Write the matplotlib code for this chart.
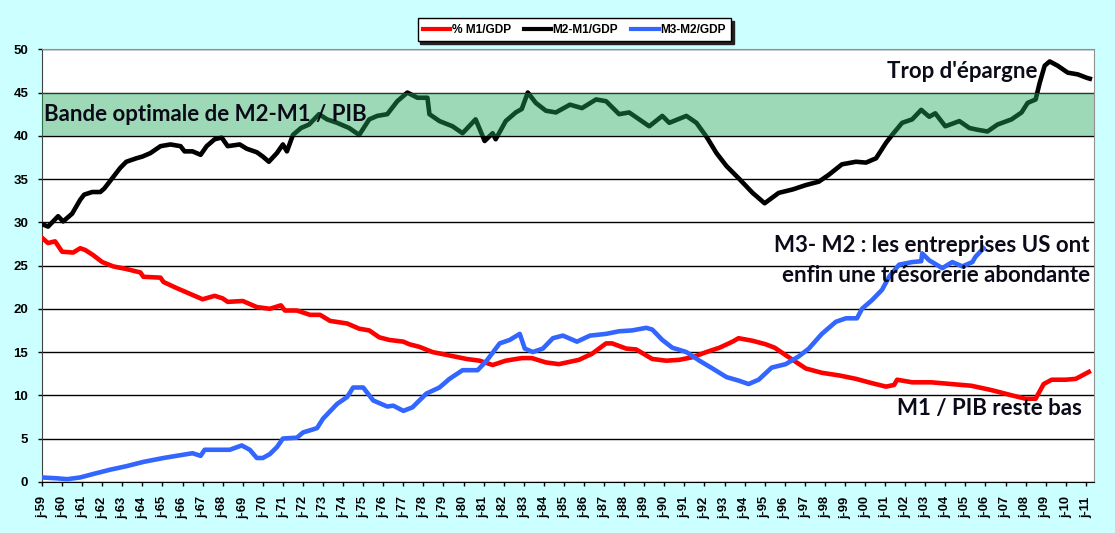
import numpy as np
import matplotlib
matplotlib.use("Agg")
import matplotlib.pyplot as plt
from matplotlib.lines import Line2D

# % M1 / GDP (year fraction -> value)
m1_x = [1959.0, 1959.3, 1959.65, 1960.0, 1960.55, 1960.9, 1961.15, 1961.55, 1962.0, 1962.55,
        1963.2, 1963.9, 1964.05, 1964.9, 1965.05, 1965.7, 1966.5, 1967.0, 1967.6, 1968.0,
        1968.25, 1969.0, 1969.7, 1970.35, 1970.9, 1971.1, 1971.7, 1972.35, 1972.85, 1973.35,
        1974.2, 1974.8, 1975.3, 1975.8, 1976.3, 1977.0, 1977.3, 1977.8, 1978.45, 1979.3,
        1980.15, 1980.8, 1981.45, 1982.1, 1982.9, 1983.4, 1984.1, 1984.75, 1985.75, 1986.4,
        1987.1, 1987.4, 1988.1, 1988.6, 1989.4, 1990.1, 1990.75, 1991.4, 1992.1, 1992.75,
        1993.4, 1993.7, 1994.4, 1995.05, 1995.5, 1996.2, 1997.05, 1997.85, 1998.7, 1999.55,
        2000.35, 2001.05, 2001.45, 2001.6, 2002.35, 2003.3, 2004.3, 2005.3, 2006.3, 2007.3,
        2008.0, 2008.5, 2008.9, 2009.3, 2010.0, 2010.5, 2011.15]
m1_y = [28.2, 27.6, 27.8, 26.6, 26.5, 27.0, 26.8, 26.2, 25.4, 24.9,
        24.6, 24.2, 23.7, 23.6, 23.1, 22.4, 21.6, 21.1, 21.5, 21.2,
        20.8, 20.9, 20.2, 20.0, 20.4, 19.8, 19.8, 19.3, 19.3, 18.6,
        18.3, 17.7, 17.5, 16.7, 16.4, 16.2, 15.9, 15.6, 15.0, 14.6,
        14.2, 14.0, 13.5, 14.0, 14.3, 14.3, 13.8, 13.6, 14.1, 14.8,
        16.0, 16.0, 15.4, 15.3, 14.2, 14.0, 14.1, 14.4, 15.0, 15.5,
        16.2, 16.6, 16.3, 15.9, 15.5, 14.4, 13.1, 12.6, 12.3, 11.9,
        11.4, 11.0, 11.2, 11.8, 11.5, 11.5, 11.3, 11.1, 10.6, 10.0,
        9.6, 9.6, 11.3, 11.8, 11.8, 11.9, 12.7]

# M2-M1 / GDP
m2m1_x = [1959.0, 1959.3, 1959.8, 1960.05, 1960.5, 1960.9, 1961.1, 1961.5, 1961.9, 1962.1,
          1962.5, 1962.9, 1963.2, 1963.7, 1964.0, 1964.4, 1964.9, 1965.4, 1965.9, 1966.1,
          1966.5, 1966.9, 1967.2, 1967.6, 1967.95, 1968.25, 1968.85, 1969.2, 1969.7, 1970.0,
          1970.3, 1970.7, 1971.0, 1971.2, 1971.5, 1971.9, 1972.3, 1972.8, 1973.2, 1973.7,
          1974.3, 1974.8, 1975.3, 1975.7, 1976.2, 1976.7, 1977.2, 1977.7, 1978.2, 1978.3,
          1978.8, 1979.45, 1979.95, 1980.6, 1980.8, 1981.05, 1981.45, 1981.6, 1982.1, 1982.6,
          1982.9, 1983.2, 1983.6, 1984.1, 1984.6, 1985.3, 1985.9, 1986.6, 1987.1, 1987.75,
          1988.25, 1988.75, 1989.25, 1989.9, 1990.25, 1991.1, 1991.6, 1992.1, 1992.6, 1993.1,
          1993.7, 1994.4, 1995.0, 1995.7, 1996.4, 1997.05, 1997.7, 1998.2, 1998.85, 1999.55,
          2000.05, 2000.55, 2001.05, 2001.35, 2001.85, 2002.35, 2002.8, 2003.2, 2003.5, 2004.0,
          2004.7, 2005.2, 2005.6, 2006.1, 2006.6, 2007.3, 2007.8, 2008.1, 2008.5, 2008.7,
          2008.95, 2009.2, 2009.6, 2010.1, 2010.6, 2011.05, 2011.2]
m2m1_y = [29.8, 29.5, 30.7, 30.1, 31.0, 32.6, 33.2, 33.5, 33.5, 33.9,
          35.1, 36.3, 37.0, 37.4, 37.6, 38.0, 38.8, 39.0, 38.8, 38.2,
          38.2, 37.8, 38.8, 39.6, 39.8, 38.8, 39.0, 38.5, 38.1, 37.6,
          37.0, 38.0, 39.0, 38.2, 40.1, 40.9, 41.3, 42.5, 41.9, 41.5,
          40.9, 40.1, 41.9, 42.3, 42.5, 44.0, 45.0, 44.4, 44.4, 42.5,
          41.7, 41.1, 40.3, 41.9, 40.8, 39.4, 40.3, 39.6, 41.7, 42.7,
          43.1, 45.0, 43.8, 42.9, 42.7, 43.6, 43.2, 44.2, 44.0, 42.5,
          42.7, 41.9, 41.1, 42.3, 41.5, 42.3, 41.5, 39.9, 38.0, 36.5,
          35.1, 33.4, 32.2, 33.4, 33.8, 34.3, 34.7, 35.5, 36.7, 37.0,
          36.9, 37.4, 39.2, 40.1, 41.5, 41.9, 43.0, 42.2, 42.6, 41.1,
          41.7, 40.9, 40.7, 40.5, 41.3, 41.9, 42.7, 43.8, 44.2, 46.1,
          48.1, 48.6, 48.1, 47.3, 47.1, 46.7, 46.6]

# M3-M2 / GDP (series stops in 2006)
m3m2_x = [1959.0, 1959.75, 1960.25, 1960.9, 1961.55, 1962.4, 1963.2, 1964.05, 1965.05, 1965.7,
          1966.5, 1966.9, 1967.1, 1968.35, 1968.95, 1969.35, 1969.7, 1970.0, 1970.35, 1970.7,
          1971.0, 1971.7, 1972.0, 1972.7, 1973.0, 1973.7, 1974.2, 1974.5, 1975.0, 1975.5,
          1976.2, 1976.5, 1977.0, 1977.45, 1978.15, 1978.8, 1979.3, 1979.95, 1980.7, 1981.15,
          1981.8, 1982.3, 1982.8, 1983.05, 1983.45, 1983.95, 1984.45, 1984.95, 1985.65, 1986.3,
          1987.1, 1987.75, 1988.4, 1989.1, 1989.4, 1989.9, 1990.4, 1991.1, 1991.75, 1992.4,
          1993.1, 1993.7, 1994.2, 1994.7, 1995.35, 1996.05, 1996.7, 1997.2, 1997.85, 1998.55,
          1999.05, 1999.6, 1999.85, 2000.35, 2000.85, 2001.2, 2001.7, 2002.35, 2002.8, 2002.85,
          2003.2, 2003.85, 2004.35, 2004.85, 2005.35, 2005.5, 2005.9]
m3m2_y = [0.5, 0.4, 0.3, 0.5, 0.9, 1.4, 1.8, 2.3, 2.75, 3.0,
          3.3, 3.0, 3.7, 3.7, 4.2, 3.7, 2.75, 2.75, 3.2, 4.0,
          5.0, 5.1, 5.7, 6.2, 7.3, 9.0, 9.8, 10.9, 10.9, 9.4,
          8.7, 8.8, 8.2, 8.6, 10.2, 10.9, 11.9, 12.9, 12.9, 14.0,
          16.0, 16.4, 17.1, 15.4, 15.0, 15.4, 16.6, 16.9, 16.2, 16.9,
          17.1, 17.4, 17.5, 17.8, 17.6, 16.4, 15.5, 15.0, 14.0, 13.1,
          12.1, 11.7, 11.3, 11.8, 13.2, 13.6, 14.5, 15.4, 17.1, 18.5,
          18.9, 18.9, 20.0, 21.0, 22.2, 23.7, 25.1, 25.4, 25.5, 26.4,
          25.6, 24.7, 25.4, 24.9, 25.4, 26.0, 27.0]

years = np.arange(1959, 2012)
year_labels = ["j-%02d" % (y % 100) for y in years]

fig = plt.figure(figsize=(11.15, 5.33), dpi=100, facecolor="#ccffff")
ax = fig.add_axes([0.0377, 0.0961, 0.9435, 0.8114])
ax.set_facecolor("white")

ax.plot(m1_x, m1_y, color="#ff0000", lw=3.3, zorder=3, solid_joinstyle="round")
ax.plot(m2m1_x, m2m1_y, color="black", lw=3.3, zorder=3, solid_joinstyle="round")
ax.plot(m3m2_x, m3m2_y, color="#3366ff", lw=3.3, zorder=3, solid_joinstyle="round")

# optimal band, drawn over the black line
ax.axhspan(40, 45, color="#22aa5b", alpha=0.44, lw=0, zorder=4)

ax.set_xlim(1959.0, 2011.41)
ax.set_ylim(0, 50)
ax.set_yticks(np.arange(0, 51, 5))
ax.set_xticks(years)
ax.set_xticklabels(year_labels, rotation=90, fontsize=9.3, fontweight="bold",
                   family="Liberation Sans")
for lab in ax.get_yticklabels():
    lab.set_fontsize(9.5)
    lab.set_fontweight("bold")
    lab.set_family("Liberation Sans")
ax.tick_params(axis="both", direction="out", length=3, width=1, color="black")
ax.tick_params(axis="y", pad=7)
ax.tick_params(axis="x", pad=7.5)

ax.grid(axis="y", color="black", lw=1)
ax.set_axisbelow(True)
ax.spines["left"].set_color("#404040")
ax.spines["bottom"].set_color("black")
ax.spines["top"].set_color("#909090")
ax.spines["right"].set_color("#909090")

txt = dict(color="#0a0a18", fontsize=16, fontweight="bold", family="Lato", zorder=6)
ax.text(1959.1, 42.5, "Bande optimale de M2-M1 / PIB", ha="left", va="center", **txt)
ax.text(2008.6, 47.4, "Trop d'épargne", ha="right", va="center", **txt)
ax.text(2011.2, 27.3, "M3- M2 : les entreprises US ont", ha="right", va="center", **txt)
ax.text(2011.2, 23.9, "enfin une trésorerie abondante", ha="right", va="center", **txt)
ax.text(2010.8, 8.5, "M1 / PIB reste bas", ha="right", va="center", **txt)

handles = [Line2D([], [], color="#ff0000", lw=3),
           Line2D([], [], color="black", lw=3),
           Line2D([], [], color="#3366ff", lw=3)]
leg = fig.legend(handles, ["% M1/GDP", "M2-M1/GDP", "M3-M2/GDP"], loc="center",
                 bbox_to_anchor=(0.515, 0.944), ncol=3, frameon=True, fancybox=False,
                 shadow={"color": "#222222", "alpha": 1.0},
                 prop={"family": "Liberation Sans", "weight": "bold", "size": 8.6},
                 handlelength=2.3, handletextpad=0.1, columnspacing=1.1,
                 borderpad=0.45, borderaxespad=0)
leg.get_frame().set_edgecolor("black")
leg.get_frame().set_linewidth(1)

fig.savefig("out.png", dpi=100, facecolor=fig.get_facecolor())
